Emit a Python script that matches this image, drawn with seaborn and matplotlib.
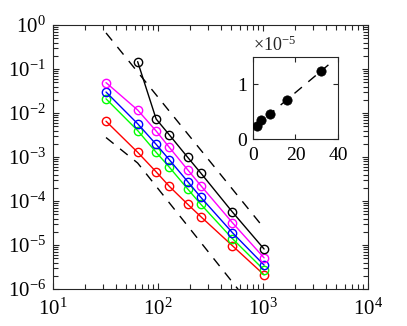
import numpy as np
import pandas as pd
import matplotlib
matplotlib.use("Agg")
import matplotlib.pyplot as plt
import seaborn as sns

# grid sizes (x axis) and error values
n_vals = [32, 64, 96, 128, 192, 256, 512, 1024]
n_black = [64, 96, 128, 192, 256, 512, 1024]
err_black = [1.47e-1, 7.3e-3, 3.2e-3, 9.8e-4, 4.3e-4, 5.6e-5, 8.1e-6]
err_magenta = [4.9e-2, 1.17e-2, 3.9e-3, 1.66e-3, 5.1e-4, 2.23e-4, 3.2e-5, 5.1e-6]
err_blue = [3.0e-2, 5.7e-3, 1.94e-3, 8.7e-4, 2.75e-4, 1.21e-4, 1.9e-5, 3.5e-6]
err_green = [2.1e-2, 4.0e-3, 1.28e-3, 5.9e-4, 1.87e-4, 8.4e-5, 1.39e-5, 2.7e-6]
err_red = [6.5e-3, 1.28e-3, 4.6e-4, 2.16e-4, 8.4e-5, 4.4e-5, 9.6e-6, 2.1e-6]

# dashed guide lines
guide_hi_x = [32, 1024]
guide_hi_y = [6.6e-1, 2.4e-5]
guide_lo_x = [32, 64, 1024]
guide_lo_y = [2.77e-3, 7.3e-4, 1.78e-7]

# axis ticks
x_ticks = [1e1, 1e2, 1e3, 1e4]
y_ticks = [1e-6, 1e-5, 1e-4, 1e-3, 1e-2, 1e-1, 1e0]

# inset data (y in units of 1e-5)
inset_x = [2, 4, 8, 16, 32]
inset_y = [0.24, 0.35, 0.46, 0.72, 1.24]

sns.set_style("ticks")
plt.rcParams["font.family"] = ["Liberation Serif", "DejaVu Serif"]
plt.rcParams["mathtext.fontset"] = "custom"
plt.rcParams["mathtext.rm"] = "Liberation Serif"
plt.rcParams["mathtext.it"] = "Liberation Serif:italic"
plt.rcParams["axes.edgecolor"] = "#262626"
plt.rcParams["axes.linewidth"] = 0.8

fig = plt.figure(figsize=(4.07, 3.26), dpi=100)
ax = fig.add_axes([0.1302, 0.1135, 0.774, 0.8098])
ax.set_xscale("log")
ax.set_yscale("log")

dash = (7, 6)
ax.plot(guide_hi_x, guide_hi_y, color="black", lw=1.0, dashes=dash)
ax.plot(guide_lo_x, guide_lo_y, color="black", lw=1.0, dashes=dash)

series = [
    (n_vals, err_red, "#ff0000"),
    (n_vals, err_green, "#00ff00"),
    (n_vals, err_blue, "#0000ff"),
    (n_vals, err_magenta, "#ff00ff"),
    (n_black, err_black, "#000000"),
]
for xs, ys, c in series:
    df = pd.DataFrame({"n": xs, "err": ys})
    sns.lineplot(data=df, x="n", y="err", color=c, marker="o", markersize=6,
                 markerfacecolor="none", markeredgecolor=c, markeredgewidth=1.0,
                 linewidth=1.0, sort=False, ax=ax)

ax.set_xlim(1e1, 1e4)
ax.set_ylim(1e-6, 1e0)
ax.set_xlabel("")
ax.set_ylabel("")
ax.xaxis.set_major_locator(matplotlib.ticker.FixedLocator(x_ticks))
ax.yaxis.set_major_locator(matplotlib.ticker.FixedLocator(y_ticks))
ax.xaxis.set_major_formatter(matplotlib.ticker.LogFormatterMathtext())
ax.yaxis.set_major_formatter(matplotlib.ticker.LogFormatterMathtext())
minor_x = [m * 10.0 ** k for k in range(1, 4) for m in range(2, 10)]
minor_y = [m * 10.0 ** k for k in range(-6, 0) for m in range(2, 10)]
ax.xaxis.set_minor_locator(matplotlib.ticker.FixedLocator(minor_x))
ax.yaxis.set_minor_locator(matplotlib.ticker.FixedLocator(minor_y))
ax.yaxis.set_minor_formatter(matplotlib.ticker.NullFormatter())
ax.xaxis.set_minor_formatter(matplotlib.ticker.NullFormatter())
ax.tick_params(which="both", direction="in", top=True, right=True, colors="#262626",
               labelcolor="black", width=0.8)
ax.tick_params(which="major", length=4.5, labelsize=15)
ax.tick_params(which="minor", length=3.5)
ax.tick_params(axis="x", which="major", pad=7)
ax.tick_params(axis="y", which="major", pad=5)
for s in ax.spines.values():
    s.set_visible(True)

# inset
ax_in = fig.add_axes([0.6216, 0.5736, 0.2088, 0.2515])
coef = np.polyfit(inset_x, inset_y, 1)
fit_x = np.array([0.0, 35.5])
ax_in.plot(fit_x, np.polyval(coef, fit_x), color="black", lw=1.0, dashes=dash)
sns.scatterplot(x=inset_x, y=inset_y, color="black", s=45, edgecolor="black",
                linewidth=0.5, ax=ax_in, zorder=3)
ax_in.set_xlim(0, 40)
ax_in.set_ylim(0, 1.5)
ax_in.set_xticks([0, 20, 40])
ax_in.set_yticks([0, 1])
ax_in.tick_params(which="both", direction="in", top=True, right=True, colors="#262626",
                  labelcolor="black", width=0.8, length=3.5, labelsize=14, pad=4)
ax_in.tick_params(axis="x", pad=6)
for s in ax_in.spines.values():
    s.set_visible(True)
ax_in.text(0.0, 1.03, r"$\times10^{-5}$", transform=ax_in.transAxes,
           fontsize=13, ha="left", va="bottom")

fig.savefig("out.png", dpi=100)
